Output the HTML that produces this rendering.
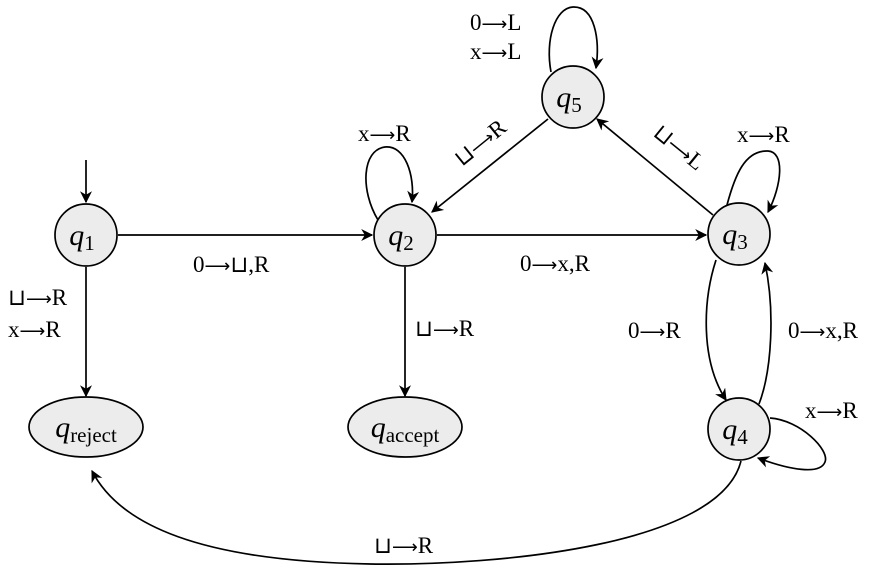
<!DOCTYPE html><html><head><style>body{margin:0;background:#fff}svg text{font-family:"Liberation Serif",serif;fill:#000}.ar{font-family:"DejaVu Sans",sans-serif;font-size:18px}</style></head><body>
<svg width="878" height="577" viewBox="0 0 878 577" xmlns="http://www.w3.org/2000/svg">
<defs><marker id="a" viewBox="0 0 10 10" refX="9" refY="5" markerWidth="12" markerHeight="12" orient="auto" markerUnits="userSpaceOnUse"><path d="M0,0 L10,5 L0,10 L3,5z" fill="#000"/></marker></defs>
<g fill="none" stroke="#000" stroke-width="1.7" marker-end="url(#a)">
<path d="M86,160 L86,202"/>
<path d="M118,235 L372,235"/>
<path d="M437,235 L706,235"/>
<path d="M86,267 L86,396"/>
<path d="M405,267 L405,396"/>
<path d="M548,119 L432,212"/>
<path d="M713,215 L597,119"/>
<path d="M378,220 C360,190 362,150 385,147 C405,145 415,175 412,202"/>
<path d="M551,72 C545,40 555,8 573,7 C595,6 600,40 596,68"/>
<path d="M727,205 C735,175 745,150 768,151 C785,152 782,185 768,212"/>
<path d="M716,260 C703,300 700,360 726,400"/>
<path d="M759,404 C772,370 775,310 765,263"/>
<path d="M770,418 C800,420 830,450 825,462 C820,475 790,470 758,458"/>
<path d="M741,461 C720,545 500,566 370,564 C200,561 120,525 92,471"/>
</g>
<g fill="#ececec" stroke="#000" stroke-width="1.7">
<circle cx="86" cy="235" r="31"/><circle cx="405" cy="235" r="31"/><circle cx="739" cy="234" r="31"/><circle cx="573" cy="97" r="31"/><circle cx="739" cy="429" r="31"/>
<ellipse cx="86" cy="427" rx="57" ry="30"/><ellipse cx="405" cy="427" rx="57" ry="30"/>
</g>
<g font-size="30" font-style="italic" text-anchor="middle">
<text x="82" y="245">q<tspan font-size="21" font-style="normal" dy="5">1</tspan></text>
<text x="401" y="245">q<tspan font-size="21" font-style="normal" dy="5">2</tspan></text>
<text x="735" y="244">q<tspan font-size="21" font-style="normal" dy="5">3</tspan></text>
<text x="735" y="439">q<tspan font-size="21" font-style="normal" dy="5">4</tspan></text>
<text x="569" y="107">q<tspan font-size="21" font-style="normal" dy="5">5</tspan></text>
<text x="86" y="437">q<tspan font-size="21" font-style="normal" dy="5">reject</tspan></text>
<text x="405" y="437">q<tspan font-size="21" font-style="normal" dy="5">accept</tspan></text>
</g>
<g font-size="23">
<text x="193" y="272">0<tspan class="ar">⟶</tspan>⊔,R</text>
<text x="8" y="305">⊔<tspan class="ar">⟶</tspan>R</text>
<text x="8" y="337">x<tspan class="ar">⟶</tspan>R</text>
<text x="415" y="336">⊔<tspan class="ar">⟶</tspan>R</text>
<text x="358" y="141">x<tspan class="ar">⟶</tspan>R</text>
<text x="520" y="271">0<tspan class="ar">⟶</tspan>x,R</text>
<text x="470" y="30">0<tspan class="ar">⟶</tspan>L</text>
<text x="470" y="59">x<tspan class="ar">⟶</tspan>L</text>
<text x="737" y="142">x<tspan class="ar">⟶</tspan>R</text>
<text x="628" y="338">0<tspan class="ar">⟶</tspan>R</text>
<text x="788" y="338">0<tspan class="ar">⟶</tspan>x,R</text>
<text x="805" y="418">x<tspan class="ar">⟶</tspan>R</text>
<text x="374" y="553">⊔<tspan class="ar">⟶</tspan>R</text>
<text transform="translate(462,167) rotate(-39)">⊔<tspan class="ar">⟶</tspan>R</text>
<text transform="translate(652,135) rotate(39)">⊔<tspan class="ar">⟶</tspan>L</text>
</g>
</svg></body></html>
